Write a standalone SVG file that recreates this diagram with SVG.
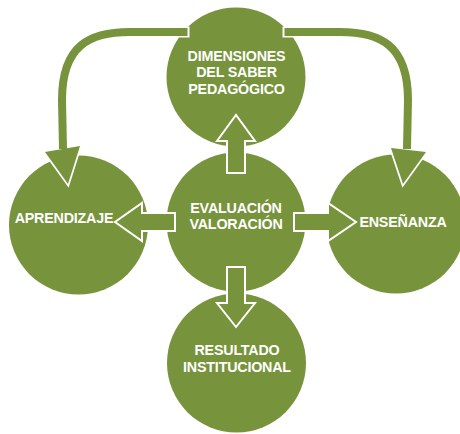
<svg xmlns="http://www.w3.org/2000/svg" width="460" height="434" viewBox="0 0 460 434">
<style>
.c{fill:#77933C}
.t{font-family:"Liberation Sans",Arial,sans-serif;font-weight:bold;font-size:14.3px;fill:#fff;text-anchor:middle;letter-spacing:-0.2px}
.blk{fill:#77933C;stroke:#fff;stroke-width:2;stroke-linejoin:miter}
.sw{fill:none;stroke:#fff;stroke-width:11}
.sg{fill:none;stroke:#77933C;stroke-width:8}
.hw{fill:#77933C;stroke:#fff;stroke-width:3.5;stroke-linejoin:miter}
.hg{fill:#77933C}
</style>
<rect width="460" height="434" fill="#fff"/>
<g id="dimensiones">
<circle class="c" cx="236" cy="77" r="69.5"/>
<text class="t" x="236.5" y="60.5">DIMENSIONES</text>
<text class="t" x="236.5" y="77.3">DEL SABER</text>
<text class="t" x="236.5" y="94">PEDAGÓGICO</text>
</g>
<g id="evaluacion">
<circle class="c" cx="236" cy="222" r="69.5"/>
</g>
<g id="aprendizaje">
<circle class="c" cx="78.5" cy="225" r="69.5"/>
<text class="t" x="64" y="223.3">APRENDIZAJE</text>
</g>
<g id="ensenanza">
<circle class="c" cx="396" cy="224" r="69.5"/>
<text class="t" x="403" y="227.3">ENSEÑANZA</text>
</g>
<g id="resultado">
<circle class="c" cx="236.5" cy="363" r="69.5"/>
<text class="t" x="237" y="355">RESULTADO</text>
<text class="t" x="237" y="372.3">INSTITUCIONAL</text>
</g>
<g id="connectors">
<polygon class="blk" points="227,173 227,141 217,141 236,115 255,141 245,141 245,173"/>
<polygon class="blk" points="175,213 142,213 142,203 115,222 142,241 142,231 175,231"/>
<polygon class="blk" points="294,213 328,213 328,203 356,222 328,241 328,231 294,231"/>
<polygon class="blk" points="227,267 245,267 245,303 255,303 236,327 217,303 227,303"/>
<polygon class="hw" points="45,152 80,146 68,184"/>
<path class="sw" d="M189.5,32 L130,32 C90,32 62,45 62,100 L63,149"/>
<path class="sg" d="M187.5,32 L130,32 C90,32 62,45 62,100 L63,149"/>
<polygon class="hg" points="45,152 80,146 68,184"/>
<polygon class="hw" points="391,148 426,152 403,184"/>
<path class="sw" d="M282.5,32 L340,32 C380,32 408,45 408,100 L407,149"/>
<path class="sg" d="M284.5,32 L340,32 C380,32 408,45 408,100 L407,149"/>
<polygon class="hg" points="391,148 426,152 403,184"/>
</g>
<g id="evaluacion-label">
<text class="t" x="236" y="212.7">EVALUACIÓN</text>
<text class="t" x="236" y="229.3">VALORACIÓN</text>
</g>
</svg>
